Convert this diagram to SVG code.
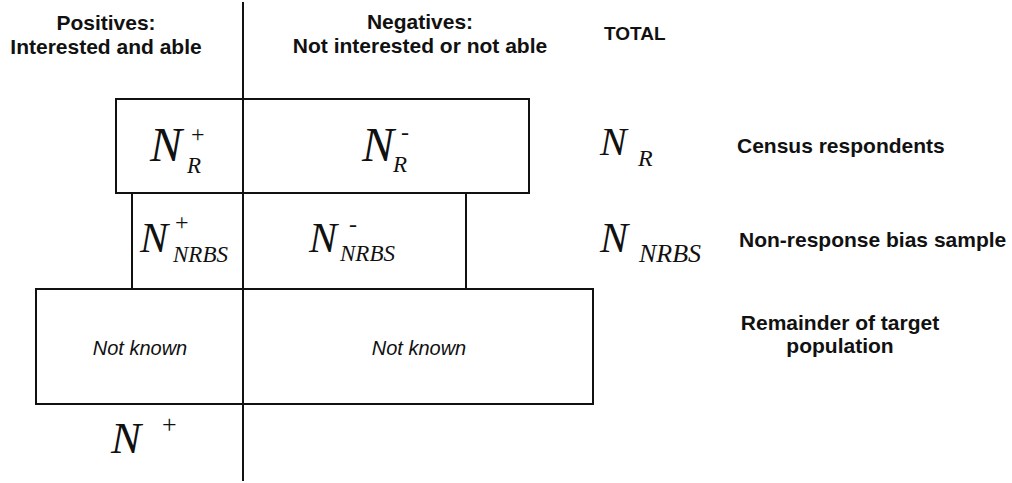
<svg xmlns="http://www.w3.org/2000/svg" width="1012" height="483" viewBox="0 0 1012 483">
<style>
.box{fill:none;stroke:#111;stroke-width:2}
.hdr{font-family:"Liberation Sans",Arial,sans-serif;font-weight:bold;font-size:21px;fill:#111}
.nk{font-family:"Liberation Sans",Arial,sans-serif;font-style:italic;font-size:20px;fill:#111;text-anchor:middle}
.m{font-family:"Liberation Serif","Times New Roman",serif;font-style:italic;fill:#111}
.op{font-family:"Liberation Serif","Times New Roman",serif;fill:#111}
</style>
<rect width="1012" height="483" fill="#fff"/>
<g id="headers">
<text class="hdr" x="106" y="30" text-anchor="middle">Positives:</text>
<text class="hdr" x="106" y="54" text-anchor="middle">Interested and able</text>
<text class="hdr" x="420" y="29" text-anchor="middle">Negatives:</text>
<text class="hdr" x="420" y="53" text-anchor="middle">Not interested or not able</text>
<text class="hdr" x="604" y="40" style="font-size:19px">TOTAL</text>
</g>
<g id="connectors">
<line x1="243" y1="2" x2="243" y2="481" stroke="#111" stroke-width="2"/>
</g>
<g id="census">
<rect class="box" x="116" y="99" width="413" height="94"/>
<text class="m" x="150" y="161" font-size="48">N</text>
<text class="op" x="191" y="142" font-size="24">+</text>
<text class="m" x="187" y="173" font-size="23">R</text>
<text class="m" x="362" y="161" font-size="48">N</text>
<text class="op" x="401" y="140" font-size="24">-</text>
<text class="m" x="393" y="172" font-size="23">R</text>
</g>
<g id="nrbs">
<rect class="box" x="132" y="193" width="334" height="96"/>
<text class="m" x="140" y="252" font-size="42">N</text>
<text class="op" x="175" y="230" font-size="24">+</text>
<text class="m" x="173" y="262" font-size="23">NRBS</text>
<text class="m" x="309" y="252" font-size="42">N</text>
<text class="op" x="349" y="232" font-size="24">-</text>
<text class="m" x="340" y="261" font-size="23">NRBS</text>
</g>
<g id="remainder">
<rect class="box" x="36" y="289" width="557" height="115"/>
<text class="nk" x="140" y="355">Not known</text>
<text class="nk" x="419" y="355">Not known</text>
</g>
<g id="total">
<text class="m" x="600" y="155" font-size="40">N</text>
<text class="m" x="638" y="166" font-size="24">R</text>
<text class="m" x="600" y="252" font-size="42">N</text>
<text class="m" x="639" y="262" font-size="26">NRBS</text>
<text class="m" x="111" y="453" font-size="45">N</text>
<text class="op" x="162" y="433" font-size="26">+</text>
</g>
<g id="labels">
<text class="hdr" x="737" y="153">Census respondents</text>
<text class="hdr" x="739" y="247">Non-response bias sample</text>
<text class="hdr" x="840" y="330" text-anchor="middle">Remainder of target</text>
<text class="hdr" x="840" y="353" text-anchor="middle">population</text>
</g>
</svg>
